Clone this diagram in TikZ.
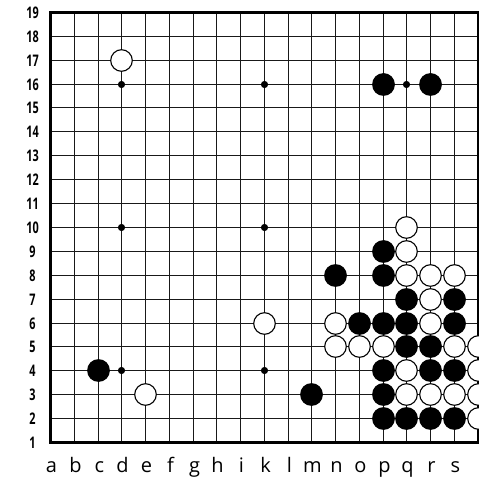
\documentclass[tikz,border=0pt]{standalone}
\usepackage{fontspec}
\setmainfont{Open Sans}
\newfontfamily\numfont{Open Sans}
\begin{document}
\begin{tikzpicture}[x=1pt,y=-1pt,
  declare function={px(\c)=round(50+\c*23.75)+0.5; py(\r)=round(442-(\r-1)*23.9)+0.5;},
  gridline/.style={line width=1.5pt,black!90},
  borderline/.style={line width=3pt,black,line cap=rect},
  blackstone/.style={fill=black,draw=none},
  whitestone/.style={fill=white,draw=black,line width=1.1pt},
  hoshi/.style={fill=black},
  rowlabel/.style={font=\numfont\bfseries\fontsize{16}{16}\selectfont,xscale=0.68,inner sep=0pt},
  collabel/.style={font=\fontsize{20}{20}\selectfont,anchor=base,inner sep=0pt}]
\useasboundingbox (0,0) rectangle (479,478);
\fill[white] (0,0) rectangle (479,478);
\clip (0,0) rectangle (479,478);
% grid
\foreach \i in {1,...,17} {
  \draw[gridline] ({px(\i)},{py(1)}) -- ({px(\i)},{py(19)});
}
\foreach \r in {2,...,18} {
  \draw[gridline] ({px(0)},{py(\r)}) -- ({px(18)},{py(\r)});
}
\draw[borderline] ({px(0)},{py(1)}) rectangle ({px(18)},{py(19)});
% hoshi
\foreach \c/\r in {3/16,9/16,15/16,3/10,9/10,15/10,3/4,9/4,15/4} {
  \fill[hoshi] ({px(\c)},{py(\r)}) circle (3.6);
}
% black stones
\foreach \c/\r in {14/16,16/16,2/4,11/3,12/8,14/9,14/8,15/7,17/7,13/6,14/6,15/6,17/6,15/5,16/5,14/4,16/4,17/4,14/3,14/2,15/2,16/2,17/2} {
  \fill[blackstone] ({px(\c)},{py(\r)}) circle (11.4);
}
% white stones
\foreach \c/\r in {3/17,15/10,4/3,9/6,15/9,15/8,16/8,17/8,16/7,16/6,12/6,12/5,13/5,14/5,17/5,18/5,15/4,18/4,15/3,16/3,17/3,18/3,18/2} {
  \draw[whitestone] ({px(\c)},{py(\r)}) circle (10.8);
}
% row labels
\foreach \r in {1,...,19} {
  \node[rowlabel] (row\r) at (32.5,{py(\r)}) {\r};
}
% column labels
\foreach \l [count=\k from 0] in {a,b,c,d,e,f,g,h,i,k,l,m,n,o,p,q,r,s} {
  \node[collabel] (col\l) at ({px(\k)+1},472) {\l};
}
\end{tikzpicture}
\end{document}
